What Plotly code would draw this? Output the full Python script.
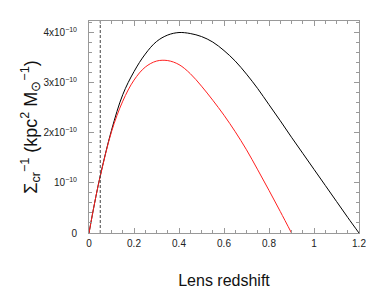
import plotly.graph_objects as go

# Lens redshift grid
z_black = [0, 0.025, 0.05, 0.1, 0.15, 0.2, 0.25, 0.3, 0.35, 0.4, 0.45, 0.5, 0.55, 0.6,
           0.65, 0.7, 0.75, 0.8, 0.85, 0.9, 0.95, 1.0, 1.05, 1.1, 1.15, 1.2]
# Sigma_cr^-1 in units of 1e-10 kpc^2 / Msun (source z = 1.2)
s_black = [0, 0.60, 1.14, 2.05, 2.76, 3.22, 3.57, 3.82, 3.95, 4.00, 3.98, 3.92, 3.81, 3.64,
           3.43, 3.17, 2.88, 2.56, 2.24, 1.91, 1.59, 1.27, 0.95, 0.63, 0.31, 0]

z_red = [0, 0.025, 0.05, 0.1, 0.15, 0.2, 0.25, 0.3, 0.35, 0.4, 0.45, 0.5, 0.55, 0.6,
         0.65, 0.7, 0.75, 0.8, 0.85, 0.9]
# source z = 0.9
s_red = [0, 0.60, 1.13, 2.02, 2.63, 3.05, 3.31, 3.43, 3.44, 3.36, 3.18, 2.93, 2.65, 2.35,
         2.02, 1.66, 1.26, 0.85, 0.43, 0]

z_cut = 0.05

x_ticks = [0, 0.2, 0.4, 0.6, 0.8, 1, 1.2]
x_labels = ["0", "0.2", "0.4", "0.6", "0.8", "1", "1.2"]
y_ticks = [0, 1, 2, 3, 4]
y_labels = ["0", "10<sup>−10</sup>", "2x10<sup>−10</sup>", "3x10<sup>−10</sup>", "4x10<sup>−10</sup>"]

Y_MAX = 4.23

fig = go.Figure()
fig.add_trace(go.Scatter(x=z_black, y=s_black, mode="lines", line_shape="spline",
                         line=dict(color="black", width=1), showlegend=False))
fig.add_trace(go.Scatter(x=z_red, y=s_red, mode="lines", line_shape="spline",
                         line=dict(color="#ff2020", width=1), showlegend=False))
fig.add_trace(go.Scatter(x=[z_cut, z_cut], y=[0, Y_MAX], mode="lines",
                         line=dict(color="#444", width=1, dash="3px,2px"), showlegend=False))

font = "Liberation Sans, Arial, Helvetica, sans-serif"
axcol = "#999"
fig.update_layout(
    width=366, height=281,
    margin=dict(l=81, r=15, t=13, b=56),
    plot_bgcolor="white", paper_bgcolor="white",
    font=dict(family=font, color="#222", size=10),
    xaxis=dict(range=[0, 1.2], tickvals=x_ticks, ticktext=x_labels, automargin=False,
               ticks="inside", ticklen=5, tickcolor=axcol, mirror="allticks",
               showline=True, linecolor=axcol, linewidth=1, showgrid=False, zeroline=False,
               minor=dict(dtick=0.05, ticks="inside", ticklen=3, tickcolor=axcol, showgrid=False),
               title=dict(text="Lens redshift", font=dict(size=16, color="#111"), standoff=27),
               tickfont=dict(size=10), ticklabelstandoff=1),
    yaxis=dict(range=[0, Y_MAX], tickvals=y_ticks, ticktext=y_labels, automargin=False,
               ticks="inside", ticklen=5, tickcolor=axcol, mirror="allticks",
               showline=True, linecolor=axcol, linewidth=1, showgrid=False, zeroline=False,
               minor=dict(dtick=0.2, ticks="inside", ticklen=3, tickcolor=axcol, showgrid=False),
               title=dict(text="Σ<sub>cr</sub><sup>−1</sup> (kpc<sup>2</sup> M<sub>⊙</sub><sup>−1</sup>)",
                          font=dict(size=18, color="#111"), standoff=0),
               tickfont=dict(size=10), ticklabelstandoff=9),
)

fig.write_html("out.html")
